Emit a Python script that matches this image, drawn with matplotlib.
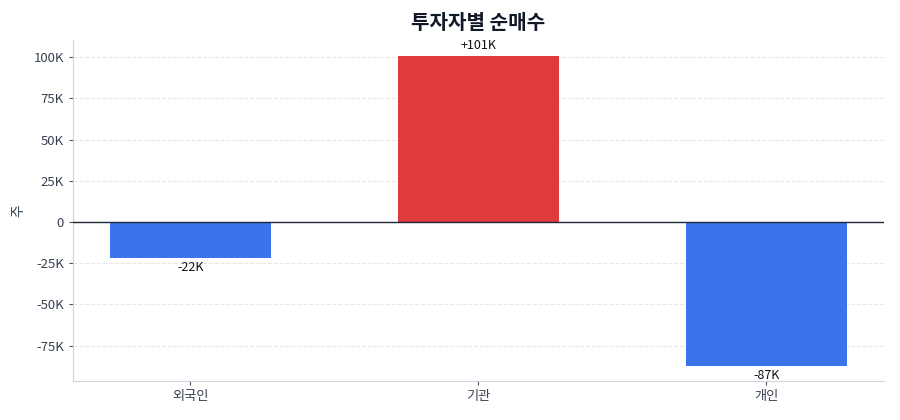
import matplotlib
matplotlib.use("Agg")
import matplotlib.pyplot as plt
from matplotlib.ticker import FuncFormatter, MultipleLocator

plt.rcParams['font.family'] = ['Noto Sans CJK KR', 'DejaVu Sans']

investors = ["외국인", "기관", "개인"]
net_buy = [-21800, 100600, -87300]
bar_labels = ["-22K", "+101K", "-87K"]

pos_color = "#df3b3b"
neg_color = "#3b73ec"


def k_fmt(v, pos):
    if v == 0:
        return "0"
    return f"{v / 1000:.0f}K"


fig, ax = plt.subplots(figsize=(9, 4.2), dpi=100)
fig.subplots_adjust(left=0.081, right=0.982, top=0.905, bottom=0.093)

x = range(len(investors))
colors = [pos_color if v > 0 else neg_color for v in net_buy]
bars = ax.bar(x, net_buy, width=0.56, color=colors, zorder=3)

for b, v, lab in zip(bars, net_buy, bar_labels):
    cx = b.get_x() + b.get_width() / 2
    if v >= 0:
        ax.annotate(lab, (cx, v), xytext=(0, 3), textcoords="offset points",
                    ha="center", va="bottom", fontsize=9, color="#111111")
    else:
        ax.annotate(lab, (cx, v), xytext=(0, -2), textcoords="offset points",
                    ha="center", va="top", fontsize=9, color="#111111")

ax.axhline(0, color="#1f2937", lw=1, zorder=4)
ax.set_ylim(-96500, 110500)
ax.yaxis.set_major_locator(MultipleLocator(25000))
ax.yaxis.set_major_formatter(FuncFormatter(k_fmt))
ax.grid(axis="y", linestyle="--", color="#e5e7eb", lw=0.8, zorder=0)

ax.set_xticks(list(x))
ax.set_xticklabels(investors)
ax.set_ylabel("주", fontsize=10, color="#374151", labelpad=6)
ax.set_title("투자자별 순매수", fontsize=14.5, fontweight="bold", color="#111827", pad=8)

for side in ["top", "right"]:
    ax.spines[side].set_visible(False)
for side in ["left", "bottom"]:
    ax.spines[side].set_color("#cbd5e1")
ax.tick_params(colors="#374151", labelsize=9.5)
ax.tick_params(axis="both", color="#4b5563", length=3)

fig.savefig("out.png", dpi=100)
